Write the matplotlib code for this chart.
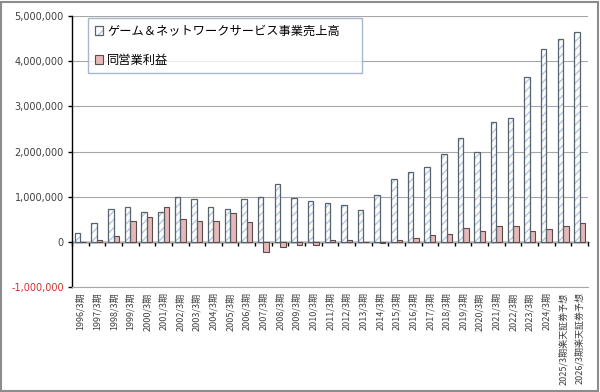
import numpy as np
import matplotlib
matplotlib.use("Agg")
import matplotlib.pyplot as plt
from matplotlib.patches import Patch, Rectangle
from matplotlib.legend_handler import HandlerTuple
from matplotlib.ticker import FuncFormatter

plt.rcParams['font.family'] = ['Noto Sans CJK JP', 'DejaVu Sans']
plt.rcParams['hatch.linewidth'] = 1.0

# --- data (million yen) ---
years = [f"{y}/3期" for y in range(1996, 2025)] + ["2025/3期楽天証券予想", "2026/3期楽天証券予想"]
sales = [190000, 420000, 730000, 780000, 660000, 660000, 1000000, 950000, 780000, 720000,
         950000, 1000000, 1280000, 980000, 910000, 870000, 810000, 710000, 1040000, 1390000,
         1550000, 1660000, 1950000, 2310000, 1980000, 2660000, 2740000, 3640000, 4270000,
         4490000, 4650000]
profit = [0, 50000, 120000, 470000, 550000, 780000, 500000, 470000, 460000, 640000,
          440000, -220000, -120000, -60000, -60000, 40000, 30000, 2000, -20000, 50000,
          90000, 140000, 180000, 310000, 240000, 350000, 350000, 250000, 290000,
          350000, 420000]
sales_label = "ゲーム＆ネットワークサービス事業売上高"
profit_label = "同営業利益"

hatch_col = '#b3c9e3'
edge_col = '#56626e'
pink = '#e6b9b8'

fig = plt.figure(figsize=(6.0, 3.92), dpi=100)
ax = fig.add_axes([0.12, 0.268, 0.86, 0.691])

x = np.arange(len(years))
w = 0.33
# sales: hatched fill, then a dark outline on top
ax.bar(x - w / 2, sales, w, color='white', edgecolor=hatch_col, hatch='////', linewidth=0, zorder=3)
ax.bar(x - w / 2, sales, w, fill=False, edgecolor=edge_col, linewidth=0.9, zorder=4)
ax.bar(x + w / 2, profit, w, color=pink, edgecolor='#5a4a4a', linewidth=0.8, zorder=3)

ax.set_xlim(-0.5, len(years) - 0.5)
ax.set_ylim(-1000000, 5000000)
ax.set_yticks(np.arange(-1000000, 5000001, 1000000))
ax.yaxis.set_major_formatter(FuncFormatter(lambda v, p: f"{int(v):,}"))
ax.grid(axis='y', color='#a6a6a6', linewidth=0.8, zorder=0)
ax.set_axisbelow(True)
for lbl in ax.get_yticklabels():
    lbl.set_fontfamily('DejaVu Sans')
    lbl.set_fontsize(7)
    lbl.set_color('#404040')
ax.get_yticklabels()[0].set_color('#d03030')
ax.tick_params(axis='y', direction='out', length=3, width=1, pad=3)

ax.set_xticks(x)
ax.set_xticklabels(years, rotation=90, fontsize=6.5, color='#404040')
ax.tick_params(axis='x', length=0, pad=4)

for s in ['top', 'right']:
    ax.spines[s].set_visible(False)
ax.spines['bottom'].set_color('#a6a6a6')
ax.spines['bottom'].set_linewidth(0.8)
ax.spines['left'].set_color('black')
ax.spines['left'].set_linewidth(1.0)

# zero axis with category-boundary ticks
sec = ax.secondary_xaxis(1 / 6)
sec.set_xticks(np.arange(-0.5, len(years), 1.0))
sec.set_xticklabels([])
sec.tick_params(direction='out', length=3, width=1, color='black')
sec.spines['bottom'].set_color('black')
sec.spines['bottom'].set_linewidth(1.0)

h_sales = (Patch(facecolor='white', edgecolor=hatch_col, hatch='///', linewidth=0),
           Patch(fill=False, edgecolor=edge_col, linewidth=0.9))
h_profit = Patch(facecolor=pink, edgecolor='#5a4a4a', linewidth=0.8)
leg = ax.legend([h_sales, h_profit], [sales_label, profit_label],
                handler_map={tuple: HandlerTuple(ndivide=1, pad=0)},
                loc='upper left', bbox_to_anchor=(0.031, 0.78, 0.531, 0.213), mode='expand',
                fontsize=8.8, frameon=True, fancybox=False, edgecolor='#8ea6c6',
                handlelength=0.7, handleheight=0.7, handletextpad=0.3,
                labelspacing=1.3, borderpad=0.55, borderaxespad=0)
leg.get_frame().set_linewidth(1.0)
leg.set_zorder(6)

fig.add_artist(Rectangle((0.002, 0.003), 0.994, 0.993, transform=fig.transFigure,
                         fill=False, edgecolor='#8c8c8c', linewidth=1.5))

fig.savefig('out.png', dpi=100)
